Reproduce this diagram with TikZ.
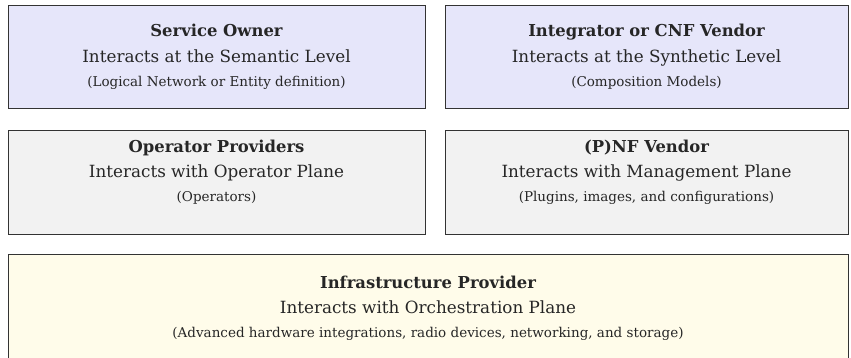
\documentclass[tikz,border=0pt]{standalone}
\usepackage{fontspec}
\setmainfont{DejaVu Serif}
\definecolor{lav}{HTML}{E6E6FA}
\definecolor{grayf}{HTML}{F2F2F2}
\definecolor{creme}{HTML}{FFFCEA}
\definecolor{ink}{HTML}{262626}
\definecolor{edge}{HTML}{333333}
\begin{document}
\begin{tikzpicture}[x=1pt,y=-1pt,
  box/.style={draw=edge, line width=0.9pt, inner sep=0pt, outer sep=0pt, anchor=north west},
  ttl/.style={anchor=base, inner sep=0pt, text=ink, font=\bfseries\fontsize{16.4}{19}\selectfont},
  sub/.style={anchor=base, inner sep=0pt, text=ink, font=\fontsize{16.8}{19}\selectfont},
  note/.style={anchor=base, inner sep=0pt, text=ink, font=\fontsize{13.5}{16}\selectfont}]
\useasboundingbox (0,0) rectangle (851,358);
\clip (0,0) rectangle (851,358);
% row 1
\node[box, fill=lav, minimum width=417pt, minimum height=103pt] (so) at (8,5) {};
\node[box, fill=lav, minimum width=403pt, minimum height=103pt] (iv) at (445,5) {};
% row 2
\node[box, fill=grayf, minimum width=417pt, minimum height=104pt] (op) at (8,130) {};
\node[box, fill=grayf, minimum width=403pt, minimum height=104pt] (nf) at (445,130) {};
% row 3
\node[box, fill=creme, minimum width=840pt, minimum height=130pt] (ip) at (8,254) {};
% texts row 1
\node[ttl] (soT) at ([yshift=-32pt]so.north) {Service Owner};
\node[sub] (soS) at ([yshift=-58pt]so.north) {Interacts at the Semantic Level};
\node[note] (soN) at ([yshift=-82pt]so.north) {(Logical Network or Entity definition)};
\node[ttl] (ivT) at ([yshift=-32pt]iv.north) {Integrator or CNF Vendor};
\node[sub] (ivS) at ([yshift=-58pt]iv.north) {Interacts at the Synthetic Level};
\node[note] (ivN) at ([yshift=-82pt]iv.north) {(Composition Models)};
% texts row 2
\node[ttl] (opT) at ([yshift=-23pt]op.north) {Operator Providers};
\node[sub] (opS) at ([yshift=-47.5pt]op.north) {Interacts with Operator Plane};
\node[note] (opN) at ([yshift=-72pt]op.north) {(Operators)};
\node[ttl] (nfT) at ([yshift=-23pt]nf.north) {(P)NF Vendor};
\node[sub] (nfS) at ([yshift=-47.5pt]nf.north) {Interacts with Management Plane};
\node[note] (nfN) at ([yshift=-72pt]nf.north) {(Plugins, images, and configurations)};
% texts row 3
\node[ttl] (ipT) at ([yshift=-34pt]ip.north) {Infrastructure Provider};
\node[sub] (ipS) at ([yshift=-59pt]ip.north) {Interacts with Orchestration Plane};
\node[note] (ipN) at ([yshift=-83pt]ip.north) {(Advanced hardware integrations, radio devices, networking, and storage)};
\end{tikzpicture}
\end{document}
